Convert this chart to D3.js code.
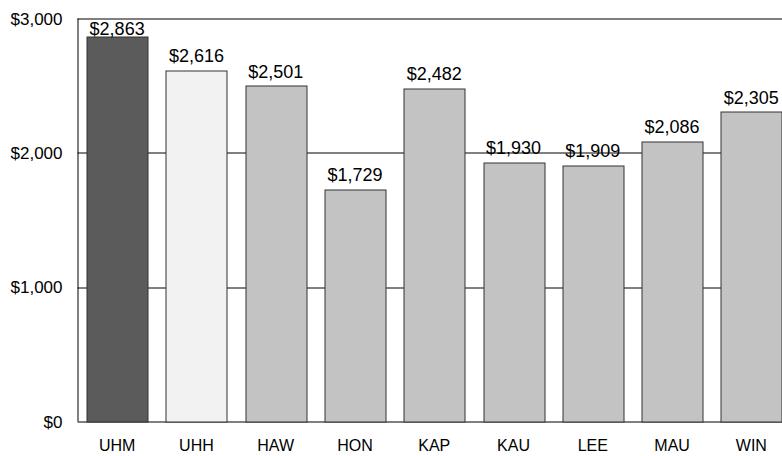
<!DOCTYPE html>
<html>
<head>
<meta charset="utf-8">
<script src="https://cdn.jsdelivr.net/npm/d3@7"></script>
<style>
  body { margin: 0; background: #fff; overflow: hidden; }
  svg text { font-family: "Liberation Sans", Arial, sans-serif; fill: #000; }
</style>
</head>
<body>
<div id="chart"></div>
<script>
// campus averages
var campuses = ["UHM", "UHH", "HAW", "HON", "KAP", "KAU", "LEE", "MAU", "WIN"];
var amounts = [2863, 2616, 2501, 1729, 2482, 1930, 1909, 2086, 2305];
var barColors = ["#5b5b5b", "#f2f2f2", "#c3c3c3", "#c3c3c3", "#c3c3c3", "#c3c3c3", "#c3c3c3", "#c3c3c3", "#c3c3c3"];
var yTicks = [0, 1000, 2000, 3000];

var width = 782, height = 456;
var margin = {top: 18.5, right: -9, bottom: 34.5, left: 77.5};
var innerW = width - margin.left - margin.right,
    innerH = height - margin.top - margin.bottom;

var fmt = d3.format("$,.0f");

var svg = d3.select("#chart").append("svg")
  .attr("width", width)
  .attr("height", height)
  .style("overflow", "hidden");

var g = svg.append("g")
  .attr("transform", "translate(" + margin.left + "," + margin.top + ")");

var x = d3.scaleBand()
  .domain(campuses)
  .range([0, innerW])
  .paddingInner(0.23)
  .paddingOuter(0.115);

var y = d3.scaleLinear()
  .domain([0, 3000])
  .range([innerH, 0]);

// grid lines
g.selectAll(".grid")
  .data(yTicks)
  .enter().append("line")
  .attr("x1", 0)
  .attr("x2", innerW)
  .attr("y1", function(d) { return Math.round(y(d)) + 0.5; })
  .attr("y2", function(d) { return Math.round(y(d)) + 0.5; })
  .attr("stroke", "#000")
  .attr("stroke-width", 1);

// left border
g.append("line")
  .attr("x1", 0.5).attr("x2", 0.5)
  .attr("y1", y(3000)).attr("y2", y(0))
  .attr("stroke", "#000");

var data = campuses.map(function(c, i) {
  return {name: c, value: amounts[i], color: barColors[i]};
});

g.selectAll(".bar")
  .data(data)
  .enter().append("rect")
  .attr("x", function(d) { return Math.round(x(d.name)) + 0.5; })
  .attr("y", function(d) { return Math.round(y(d.value)) + 0.5; })
  .attr("width", Math.round(x.bandwidth()))
  .attr("height", function(d) { return Math.round(y(0)) - Math.round(y(d.value)); })
  .attr("fill", function(d) { return d.color; })
  .attr("stroke", "#333")
  .attr("stroke-width", 1);

// value labels (kept inside the plot frame)
g.selectAll(".val")
  .data(data)
  .enter().append("text")
  .attr("x", function(d) { return x(d.name) + x.bandwidth() / 2; })
  .attr("y", function(d) { return Math.max(y(d.value) - 8, 16.5); })
  .attr("text-anchor", "middle")
  .attr("font-size", "18px")
  .text(function(d) { return fmt(d.value); });

// y labels
g.selectAll(".ylab")
  .data(yTicks)
  .enter().append("text")
  .attr("x", -15)
  .attr("y", function(d) { return y(d); })
  .attr("dy", "0.36em")
  .attr("text-anchor", "end")
  .attr("font-size", "17px")
  .text(function(d) { return fmt(d); });

// x labels
g.selectAll(".xlab")
  .data(campuses)
  .enter().append("text")
  .attr("x", function(d) { return x(d) + x.bandwidth() / 2; })
  .attr("y", innerH + 29.5)
  .attr("text-anchor", "middle")
  .attr("font-size", "16px")
  .text(function(d) { return d; });
</script>
</body>
</html>
